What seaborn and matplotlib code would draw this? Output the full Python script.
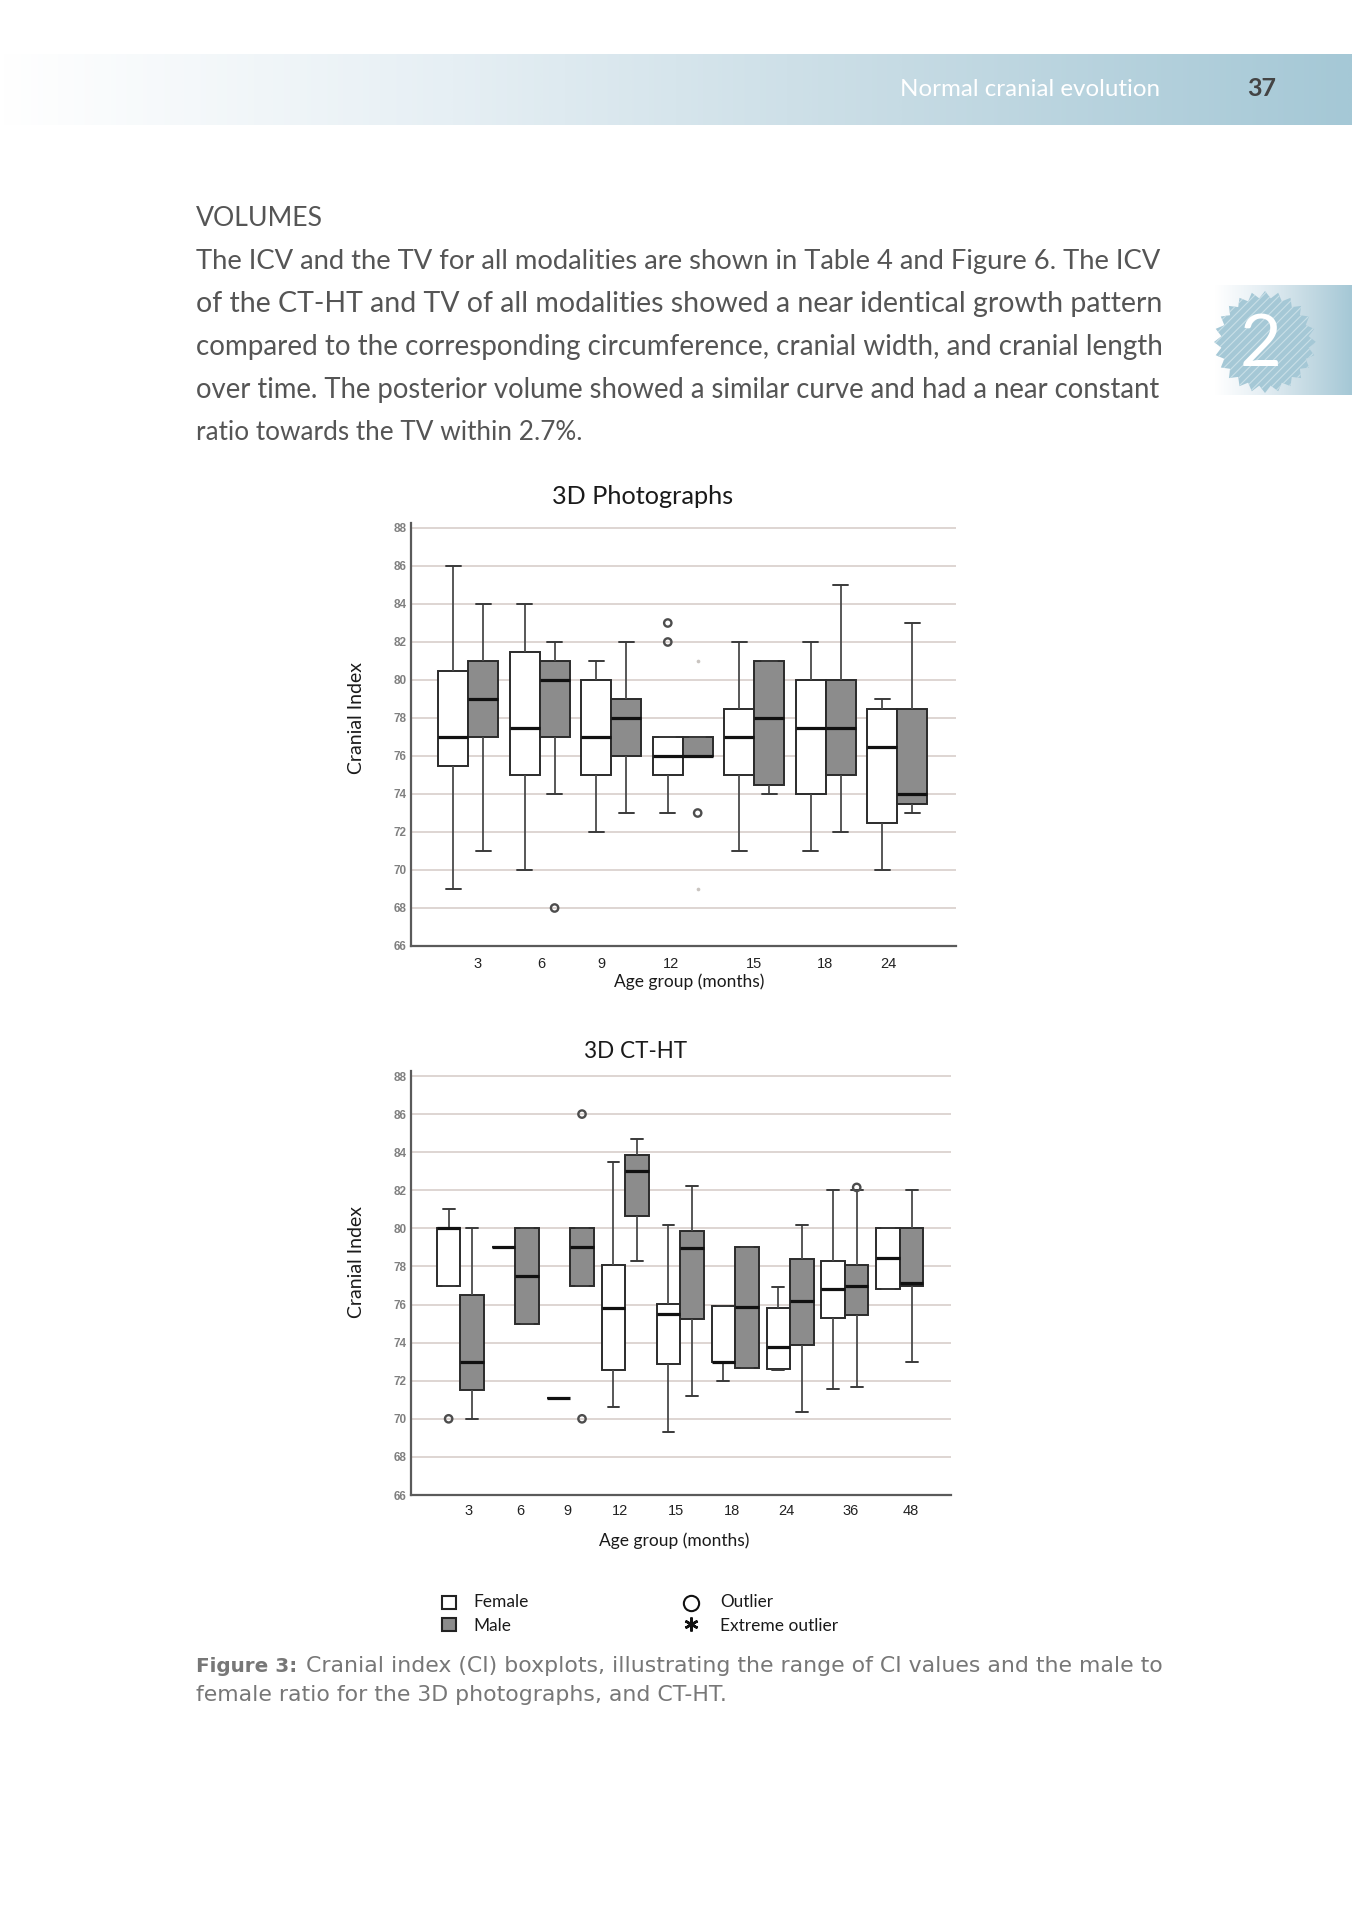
import numpy as np
import pandas as pd
import matplotlib
matplotlib.use("Agg")
import matplotlib.pyplot as plt
from matplotlib.colors import LinearSegmentedColormap
from matplotlib.patches import Rectangle, Polygon
import seaborn as sns

# ---------- data: [low whisker, Q1, median, Q3, high whisker] ----------
photo_ages = ["3", "6", "9", "12", "15", "18", "24"]
photo_female = [[69, 75.5, 77, 80.5, 86], [70, 75, 77.5, 81.5, 84], [72, 75, 77, 80, 81],
                [73, 75, 76, 77, 77], [71, 75, 77, 78.5, 82], [71, 74, 77.5, 80, 82],
                [70, 72.5, 76.5, 78.5, 79]]
photo_male = [[71, 77, 79, 81, 84], [74, 77, 80, 81, 82], [73, 76, 78, 79, 82],
              [76, 76, 76, 77, 77], [74, 74.5, 78, 81, 81], [72, 75, 77.5, 80, 85],
              [73, 73.5, 74, 78.5, 83]]
photo_out_group = ["6", "12", "12", "12"]
photo_out_sex = ["Male", "Female", "Female", "Male"]
photo_out_val = [68, 83, 82, 73]
photo_faint_group = ["12", "12"]
photo_faint_sex = ["Male", "Male"]
photo_faint_val = [81, 69]

ct_ages = ["3", "6", "9", "12", "15", "18", "24", "36", "48"]
ct_female = [[77, 77, 80, 80, 81], [79, 79, 79, 79, 79], [71.1, 71.1, 71.1, 71.1, 71.1],
             [70.6, 72.55, 75.8, 78.1, 83.5], [69.3, 72.9, 75.5, 76.05, 80.2],
             [72, 73, 73, 75.9, 75.9], [72.55, 72.6, 73.75, 75.8, 76.9],
             [71.55, 75.3, 76.8, 78.3, 82], [76.8, 76.8, 78.45, 80, 80]]
ct_male = [[70, 71.5, 73, 76.5, 80], [75, 75, 77.5, 80, 80], [77, 77, 79, 80, 80],
           [78.3, 80.65, 83, 83.85, 84.7], [71.2, 75.25, 78.95, 79.85, 82.2],
           [72.65, 72.65, 75.85, 79, 79], [70.35, 73.9, 76.2, 78.4, 80.2],
           [71.65, 75.45, 77, 78.1, 82], [73, 77, 77.15, 80, 82]]
ct_out_group = ["3", "9", "9", "36"]
ct_out_sex = ["Female", "Male", "Male", "Male"]
ct_out_val = [70, 86, 70, 82.15]

y_ticks = list(range(66, 90, 2))

# ---------- layout / style ----------
W, H = 1352, 1920
GRAY = "#8c8c8c"
TEAL = "#a5c8d6"
BODY = "#555555"
photo_tick_shift = [0.125, 0.02, -0.13, -0.165, -0.01, -0.01, -0.125]
ct_tick_shift = [0.156, 0.097, -0.045, -0.097, -0.082, -0.059, -0.067, 0.104, 0.193]

sns.set_theme(style="white")
plt.rcParams["font.family"] = ["Lato", "Open Sans", "DejaVu Sans"]
plt.rcParams["hatch.linewidth"] = 0.8

fig = plt.figure(figsize=(W / 100, H / 100), dpi=100, facecolor="white")
page = fig.add_axes([0, 0, 1, 1], zorder=0)
page.set_axis_off()


def grad(x0, x1, y0, y1, start=0.0):
    cmap = LinearSegmentedColormap.from_list("g", ["#ffffff", "#e6eff4", "#c6dbe4", TEAL])
    g = np.clip((np.linspace(0, 1, 512) - start) / (1 - start), 0, 1)[None, :]
    page.imshow(g, cmap=cmap, extent=[x0, x1, y1, y0], aspect="auto", vmin=0, vmax=1)


grad(0, W, 54, 125, start=0.0)
grad(1215, W, 285, 395)
page.set_xlim(0, W)
page.set_ylim(H, 0)


def fit(x, y, s, width=None, ha="left", **kw):
    t = page.text(x, y, s, ha=ha, va="center", **kw)
    if width is not None:
        r = fig.canvas.get_renderer()
        for _ in range(2):
            w = t.get_window_extent(r).width
            t.set_fontsize(t.get_fontsize() * width / w)
    return t


fit(1160, 90, "Normal cranial evolution", width=260, ha="right", color="white", fontsize=17)
fit(1262, 89, "37", width=29, ha="center", color="#444444", fontsize=17, fontweight="bold")

fit(196, 218, "VOLUMES", width=127, color=BODY, fontsize=18)
body_lines = ["The ICV and the TV for all modalities are shown in Table 4 and Figure 6. The ICV",
              "of the CT-HT and TV of all modalities showed a near identical growth pattern",
              "compared to the corresponding circumference, cranial width, and cranial length",
              "over time. The posterior volume showed a similar curve and had a near constant",
              "ratio towards the TV within 2.7%."]
body_y = [261, 304, 347, 390, 432]
body_w = [964, 964, 964, 964, 387]
for yy, ww, ln in zip(body_y, body_w, body_lines):
    fit(196, yy, ln, width=ww, color=BODY, fontsize=18)

# gear tab
ang = np.linspace(0, 2 * np.pi, 49)[:-1]
rad = np.where(np.arange(48) % 2 == 0, 51, 44)
page.add_patch(Polygon(np.c_[1265 + rad * np.cos(ang), 342 + rad * np.sin(ang)], closed=True,
                       facecolor=TEAL, edgecolor="#c9dfe7", hatch="////", linewidth=0))
fit(1261, 345, "2", color="white", fontsize=52, ha="center")


# ---------- charts ----------
def draw(ages, female, male, og, os_, ov, shift, ax_px, xlim, total, tick_pad, faint=None):
    left, right, y66, y88 = ax_px
    per = (y66 - y88) / 22
    top = y88 - 0.25 * per
    ax = fig.add_axes([left / W, 1 - y66 / H, (right - left) / W, (y66 - top) / H], zorder=2)
    ax.patch.set_alpha(0)
    stat = ["low", "q1", "med", "q3", "high"]
    rows = []
    for sex, series in (("Female", female), ("Male", male)):
        for age, vals in zip(ages, series):
            for s, v in zip(stat, vals):
                rows.append({"age": age, "sex": sex, "ci": v})
    df = pd.DataFrame(rows)
    sns.boxplot(data=df, x="age", y="ci", hue="sex", order=ages, hue_order=["Female", "Male"],
                palette={"Female": "white", "Male": GRAY}, saturation=1, whis=(0, 100),
                width=total, gap=0, linecolor="#2b2b2b", linewidth=1.4, showfliers=False,
                medianprops={"linewidth": 2.3, "color": "#111111"},
                whiskerprops={"color": "#4a4a4a", "linewidth": 1.3},
                capprops={"color": "#3a3a3a", "linewidth": 1.4},
                legend=False, ax=ax)
    idx = {a: i for i, a in enumerate(ages)}
    off = {"Female": -total / 4, "Male": total / 4}
    od = pd.DataFrame({"x": [idx[g] + off[s] for g, s in zip(og, os_)], "y": ov})
    sns.scatterplot(data=od, x="x", y="y", marker="o", s=28, facecolor="none",
                    edgecolor="#4d4d4d", linewidth=1.7, legend=False, ax=ax, zorder=5)
    if faint is not None:
        fg, fs, fv = faint
        fd = pd.DataFrame({"x": [idx[g] + off[s] for g, s in zip(fg, fs)], "y": fv})
        sns.scatterplot(data=fd, x="x", y="y", marker="o", s=7, color="#c9c4c0",
                        linewidth=0, legend=False, ax=ax, zorder=5)
    ax.set_xlim(*xlim)
    ax.set_ylim(66, 88 + 0.25)
    ax.set_yticks(y_ticks)
    ax.set_yticklabels([str(v) for v in y_ticks], family="Liberation Sans", fontsize=8.5,
                       fontweight="bold", color="#808080")
    ax.set_xticks([i + s for i, s in enumerate(shift)])
    ax.set_xticklabels(ages, family="Liberation Sans", fontsize=10.5, color="#222222")
    ax.tick_params(axis="x", length=0, pad=tick_pad)
    ax.tick_params(axis="y", length=0, pad=3)
    ax.grid(axis="y", color="#d8cecb", linewidth=1.2)
    ax.set_axisbelow(True)
    ax.set_xlabel("")
    ax.set_ylabel("")
    for sp in ("top", "right"):
        ax.spines[sp].set_visible(False)
    for sp in ("left", "bottom"):
        ax.spines[sp].set_color("#5a5a5a")
        ax.spines[sp].set_linewidth(1.6)
    return ax


draw(photo_ages, photo_female, photo_male, photo_out_group, photo_out_sex, photo_out_val,
     photo_tick_shift, (410.6, 956, 946, 528), (-0.804, 6.82), 0.836, 8,
     faint=(photo_faint_group, photo_faint_sex, photo_faint_val))
draw(ct_ages, ct_female, ct_male, ct_out_group, ct_out_sex, ct_out_val,
     ct_tick_shift, (410.6, 951, 1495, 1076), (-0.906, 8.93), 0.855, 6.5)

LAB = dict(family=["Lato", "DejaVu Sans"], color="#1a1a1a")
fit(642.5, 496, "3D Photographs", width=181, ha="center", fontsize=18, **LAB)
fit(635.5, 1052, "3D CT-HT", width=103, ha="center", fontsize=18, **LAB)
fit(689, 982, "Age group (months)", width=150, ha="center", fontsize=12, **LAB)
fit(674, 1541, "Age group (months)", width=150, ha="center", fontsize=12, **LAB)
for yy in (718, 1262):
    t = page.text(357, yy, "Cranial Index", rotation=90, ha="center", va="center",
                  fontsize=14, **LAB)

# ---------- legend ----------
for yy, fc in ((1602, "white"), (1624.5, GRAY)):
    page.add_patch(Rectangle((442, yy - 6.5), 14, 13, facecolor=fc, edgecolor="#222222", linewidth=1.5))
page.plot([691], [1603], marker="o", ms=11, mfc="white", mec="#111111", mew=1.5, ls="none")
page.plot([691], [1624], marker=(6, 2, 0), ms=10, mec="#111111", mew=1.8, ls="none")
page.set_xlim(0, W)
page.set_ylim(H, 0)
leg = dict(family=["Lato", "DejaVu Sans"], color="#1a1a1a", fontsize=12)
fit(473, 1602, "Female", width=55, **leg)
fit(473, 1626, "Male", width=38, **leg)
fit(720, 1602, "Outlier", width=53, **leg)
fit(720, 1626, "Extreme outlier", width=118, **leg)

# ---------- caption ----------
CAP = "#777777"
CF = ["DejaVu Sans"]
fit(196, 1666, "Figure 3:", width=102, color=CAP, fontsize=14, fontweight="bold", family=CF)
fit(306, 1666, "Cranial index (CI) boxplots, illustrating the range of CI values and the male to",
    width=854, color=CAP, fontsize=14, family=CF)
fit(196, 1695, "female ratio for the 3D photographs, and CT-HT.", width=530, color=CAP, fontsize=14, family=CF)

fig.savefig("out.png", dpi=100, facecolor="white")
